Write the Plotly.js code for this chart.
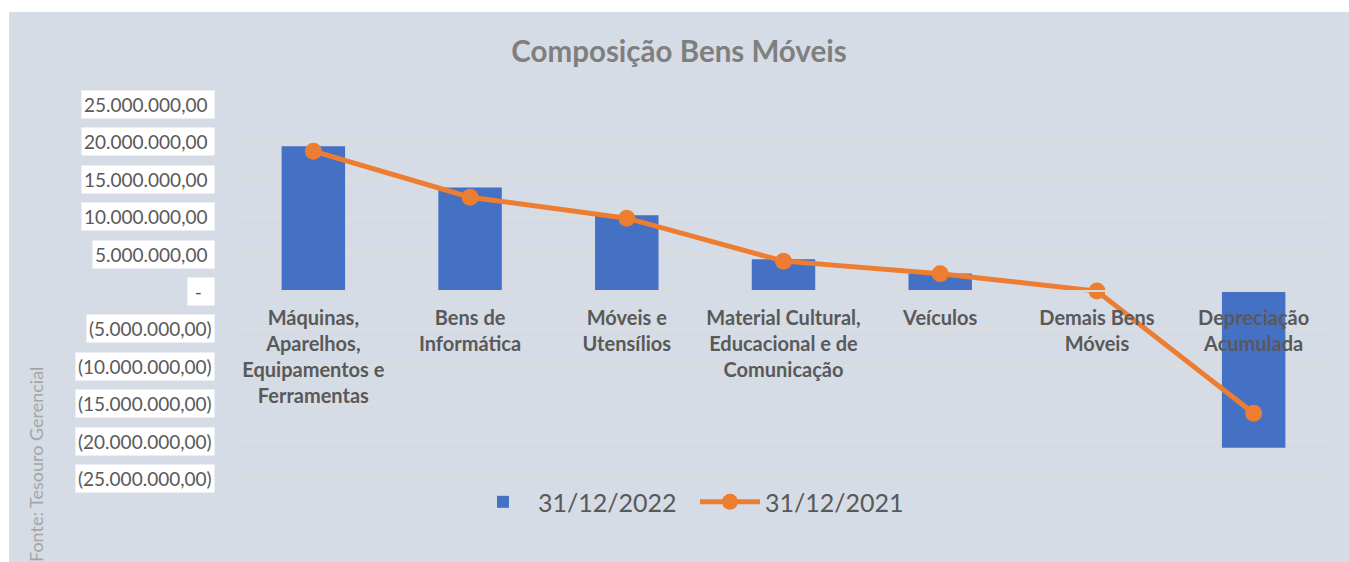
<!DOCTYPE html>
<html>
<head>
<meta charset="utf-8">
<script src="https://cdn.plot.ly/plotly-3.0.1.min.js"></script>
<style>
  html, body { margin: 0; padding: 0; background: #ffffff; overflow: hidden; }
  #chart { position: absolute; left: 9px; top: 12px; width: 1340px; height: 550px; }
</style>
</head>
<body>
<div id="chart"></div>
<script>
// ---- data ----
const categories = [
  "Máquinas,<br>Aparelhos,<br>Equipamentos e<br>Ferramentas",
  "Bens de<br>Informática",
  "Móveis e<br>Utensílios",
  "Material Cultural,<br>Educacional e de<br>Comunicação",
  "Veículos",
  "Demais Bens<br>Móveis",
  "Depreciação<br>Acumulada"
];
const values2022 = [19400000, 13900000, 10200000, 4300000, 2400000, 0, -20900000];
const values2021 = [18760000, 12600000, 9800000, 4050000, 2370000, 50000, -16300000];
const seriesNames = ["31/12/2022", "31/12/2021"];
const tickValues = [25000000, 20000000, 15000000, 10000000, 5000000, 0,
                    -5000000, -10000000, -15000000, -20000000, -25000000];
const tickLabels = ["25.000.000,00", "20.000.000,00", "15.000.000,00", "10.000.000,00", "5.000.000,00", "-",
                    "(5.000.000,00)", "(10.000.000,00)", "(15.000.000,00)", "(20.000.000,00)", "(25.000.000,00)"];
const chartTitle = "Composição Bens Móveis";
const sourceNote = "Fonte: Tesouro Gerencial";

// ---- drawing ----
const FONT = "Lato, 'Open Sans', sans-serif";
const xIdx = categories.map((_, i) => i);

// vertical geometry (px inside the 550px figure)
const H = 550, T = 84.5, B = 10;
const plotH = H - T - B;              // full plotting area height
const axisH = 389.3;                  // height used by the value axis
const yDom0 = 1 - axisH / plotH;      // value axis domain bottom
const zeroPos = (yDom0 + 1) / 2;      // range is symmetric -> zero in the middle
const legendY = (H - B - 490) / plotH;

const traces = [
  {
    type: "bar",
    name: seriesNames[0],
    x: xIdx,
    y: values2022,
    marker: { color: "#4571C4" },
    hoverinfo: "y"
  },
  {
    type: "scatter",
    mode: "lines+markers",
    name: seriesNames[1],
    x: xIdx,
    y: values2021,
    line: { color: "#ED7D31", width: 5 },
    marker: { color: "#ED7D31", size: 17 },
    hoverinfo: "y"
  }
];

// y tick labels drawn as boxed labels (white background, like the source)
const tickAnnotations = tickValues.map((v, i) => ({
  xref: "paper", yref: "y",
  x: 0, y: v,
  xanchor: "right", yanchor: "middle",
  xshift: -20,
  text: tickLabels[i] === "-" ? "\u00a0-\u00a0\u00a0" : (v > 0 ? tickLabels[i] + "\u00a0" : tickLabels[i]),
  showarrow: false,
  bgcolor: "#ffffff",
  borderpad: 2,
  font: { family: FONT, size: 19, color: "#595959" }
}));

const layout = {
  width: 1340,
  height: H,
  paper_bgcolor: "#D6DCE5",
  plot_bgcolor: "rgba(0,0,0,0)",
  margin: { l: 226, r: 17, t: T, b: B },
  title: {
    text: "<b>" + chartTitle + "</b>",
    x: 0.5, xanchor: "center",
    y: 0.927, yanchor: "middle", yref: "container",
    font: { family: FONT, size: 29.5, color: "#7F7F7F" }
  },
  xaxis: {
    type: "linear",
    range: [-0.5, categories.length - 0.5],
    tickvals: xIdx,
    ticktext: categories,
    anchor: "free",
    position: zeroPos,
    showgrid: false,
    zeroline: false,
    showline: true,
    linecolor: "#D9D9D9",
    linewidth: 2,
    ticks: "",
    tickangle: 0,
    ticklabelstandoff: 9,
    tickfont: { family: FONT, size: 20, color: "#595959", weight: "bold" },
    fixedrange: true
  },
  yaxis: {
    domain: [yDom0, 1],
    range: [-26000000, 26000000],
    tickvals: tickValues,
    showticklabels: false,
    showgrid: true,
    gridcolor: "#DEDDDB",
    gridwidth: 2,
    zeroline: false,
    showline: false,
    ticks: "",
    fixedrange: true
  },
  bargap: 0.595,
  showlegend: true,
  legend: {
    orientation: "h",
    xref: "paper", x: 0.4193, xanchor: "center",
    yref: "paper", y: legendY, yanchor: "middle",
    bgcolor: "rgba(0,0,0,0)",
    font: { family: FONT, size: 25, color: "#595959" },
    itemwidth: 60,
    entrywidth: 152,
    traceorder: "normal"
  },
  annotations: tickAnnotations.concat([
    {
      xref: "paper", yref: "paper",
      x: 0, y: 0,
      xshift: -199, yshift: 87,
      xanchor: "center", yanchor: "middle",
      textangle: -90,
      text: sourceNote,
      showarrow: false,
      font: { family: FONT, size: 18, color: "#A6A6A6" }
    }
  ]),
  font: { family: FONT }
};

Plotly.newPlot("chart", traces, layout, { displayModeBar: false, staticPlot: true });
</script>
</body>
</html>
